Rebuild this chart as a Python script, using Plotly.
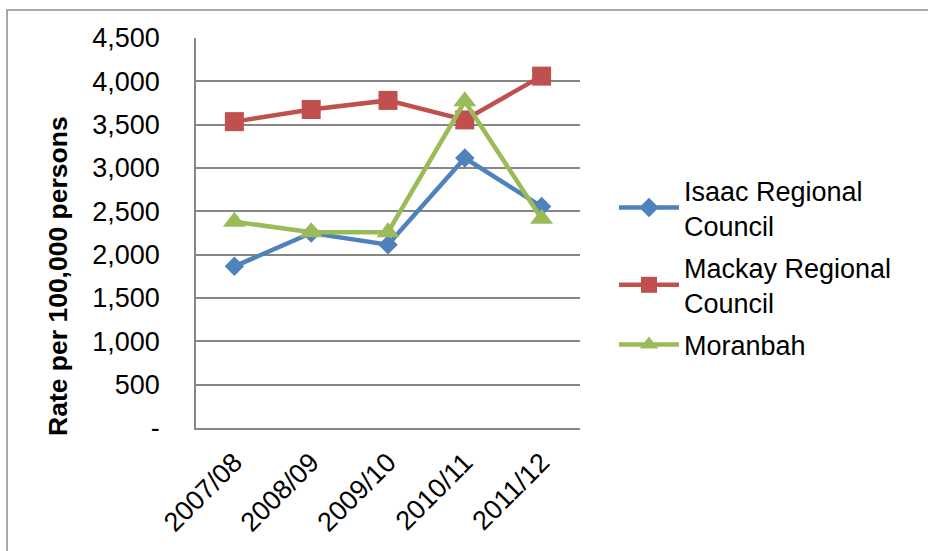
import plotly.graph_objects as go

categories = ["2007/08", "2008/09", "2009/10", "2010/11", "2011/12"]
isaac = [1865, 2250, 2115, 3115, 2555]
mackay = [3535, 3675, 3780, 3555, 4060]
moranbah = [2380, 2260, 2260, 3770, 2415]

y_tickvals = [0, 500, 1000, 1500, 2000, 2500, 3000, 3500, 4000, 4500]
y_ticktext = ["-", "500", "1,000", "1,500", "2,000", "2,500", "3,000", "3,500", "4,000", "4,500"]

FONT = "Liberation Sans, Arial, sans-serif"
W, H = 928, 551
L, R, T, B = 196, 580, 38, 428

fig = go.Figure()
fig.add_trace(go.Scatter(x=categories, y=isaac, name="Isaac Regional<br>Council",
                         mode="lines+markers", legendgroup="a",
                         line=dict(color="#4F81BD", width=4.5),
                         marker=dict(symbol="diamond", size=15, color="#4F81BD")))
fig.add_trace(go.Scatter(x=categories, y=mackay, name="Mackay Regional<br>Council",
                         mode="lines+markers", legendgroup="b",
                         line=dict(color="#C0504D", width=4.5),
                         marker=dict(symbol="square", size=19, color="#C0504D")))
fig.add_trace(go.Scatter(x=categories, y=moranbah, name="Moranbah",
                         mode="lines+markers", legendgroup="c",
                         line=dict(color="#9BBB59", width=4.5),
                         marker=dict(symbol="triangle-up", size=20, color="#9BBB59")))

pw, ph = R - L, B - T
def px_x(x):
    return (x - L) / pw
def px_y(y):
    return (B - y) / ph

fig.update_layout(
    width=W, height=H,
    margin=dict(l=L, r=W - R, t=T, b=H - B),
    plot_bgcolor="white", paper_bgcolor="white",
    font=dict(family=FONT, size=27, color="black"),
    showlegend=True,
    legend=dict(x=px_x(614), y=px_y(166), xanchor="left", yanchor="top",
                font=dict(size=27, family=FONT), bgcolor="rgba(0,0,0,0)",
                itemwidth=60, tracegroupgap=4),
    xaxis=dict(type="category", showgrid=False, showline=True, linecolor="#868686",
               linewidth=1.5, tickangle=-45, ticks="", tickfont=dict(size=27),
               ticklabelstandoff=6, mirror=False, range=[-0.5, 4.5]),
    yaxis=dict(range=[0, 4500], tickvals=y_tickvals, ticktext=y_ticktext,
               showgrid=True, gridcolor="#868686", gridwidth=1.5,
               showline=True, linecolor="#868686", linewidth=1.5,
               ticks="", tickfont=dict(size=27), ticklabelstandoff=29,
               zeroline=False),
    shapes=[dict(type="rect", xref="paper", yref="paper",
                 x0=px_x(7), x1=px_x(935), y0=px_y(560), y1=px_y(10),
                 line=dict(color="#8C8C8C", width=1.5), fillcolor="rgba(0,0,0,0)",
                 layer="below")],
    annotations=[dict(text="<b>Rate per 100,000 persons</b>", textangle=-90,
                      xref="paper", yref="paper", x=px_x(58), y=px_y(276),
                      xanchor="center", yanchor="middle", showarrow=False,
                      font=dict(size=26.5, family=FONT))],
)

fig.write_html("out.html", config={"displayModeBar": False},
               post_script="document.body.style.margin='0';document.body.style.overflow='hidden';")
